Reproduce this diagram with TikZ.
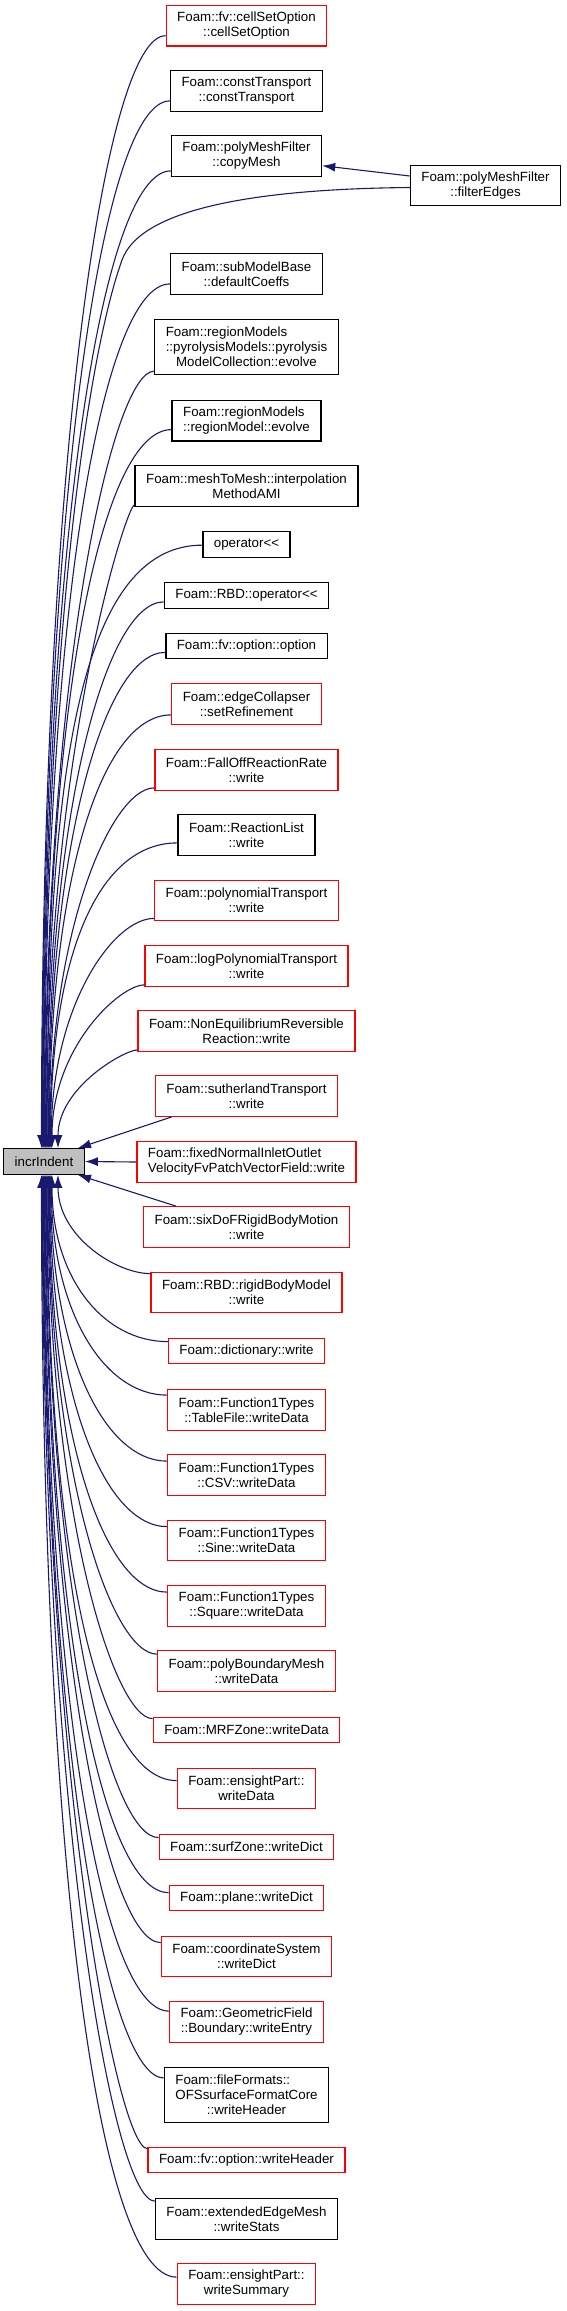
\documentclass[tikz,border=0pt]{standalone}
\usepackage{fontspec}
\setmainfont{Liberation Sans}
\usetikzlibrary{arrows.meta,calc}
\definecolor{edgeblue}{HTML}{191970}
\definecolor{hlgray}{HTML}{BFBFBF}
\newcommand{\lfirst}[2]{\setbox0\hbox{#2}\hbox to\wd0{#1\hfil}\\#2}
\begin{document}
\begin{tikzpicture}[
  x=1pt, y=-1pt,
  >={Latex[length=13pt,width=9pt]},
  fn/.style={draw=black, fill=white, line width=1.3pt, align=center,
    inner xsep=11pt, inner ysep=0pt, font=\fontsize{13.33}{15}\selectfont},
  fnred/.style={fn, draw=red},
  oneline/.style={minimum height=25.5pt},
  twoline/.style={minimum height=40.5pt},
  threeline/.style={minimum height=55pt},
  call/.style={draw=edgeblue, line width=1.1pt, ->}
]
  \useasboundingbox (0,0) rectangle (567,2311);

  \node[fn, fill=hlgray, oneline] (incr) at (44,1161.5) {incrIndent};

  \node[fnred,twoline] (cso) at (246.5,25.8) {Foam::fv::cellSetOption\\::cellSetOption};
  \node[fn,twoline] (ctr) at (246.5,91) {Foam::constTransport\\::constTransport};
  \node[fn,twoline] (cpm) at (246.5,156) {Foam::polyMeshFilter\\::copyMesh};
  \node[fn,twoline] (fe) at (485.5,185.5) {Foam::polyMeshFilter\\::filterEdges};
  \node[fn,twoline] (dfc) at (246.5,274) {Foam::subModelBase\\::defaultCoeffs};
  \node[fn,threeline] (pyr) at (246.5,347) {\lfirst{Foam::regionModels}{::pyrolysisModels::pyrolysis}\\ModelCollection::evolve};
  \node[fn,twoline] (rme) at (246.5,420.7) {\lfirst{Foam::regionModels}{::regionModel::evolve}};
  \node[fn,twoline] (ami) at (246.5,486) {Foam::meshToMesh::interpolation\\MethodAMI};
  \node[fn,oneline] (opl) at (246.5,544.5) {operator<{}<};
  \node[fn,oneline] (rbo) at (246.5,595.5) {Foam::RBD::operator<{}<};
  \node[fn,oneline] (opt) at (246.5,646) {Foam::fv::option::option};
  \node[fnred,twoline] (srf) at (246.5,704) {Foam::edgeCollapser\\::setRefinement};
  \node[fnred,twoline] (frr) at (246.5,770) {Foam::FallOffReactionRate\\::write};
  \node[fn,twoline] (rlw) at (246.5,835) {Foam::ReactionList\\::write};
  \node[fnred,twoline] (ptw) at (246.5,900.5) {Foam::polynomialTransport\\::write};
  \node[fnred,twoline] (lpt) at (246.5,966) {Foam::logPolynomialTransport\\::write};
  \node[fnred,twoline] (ner) at (246.5,1031) {Foam::NonEquilibriumReversible\\Reaction::write};
  \node[fnred,twoline] (stw) at (246.5,1096) {Foam::sutherlandTransport\\::write};
  \node[fnred,twoline] (fni) at (246.5,1162) {\lfirst{Foam::fixedNormalInletOutlet}{VelocityFvPatchVectorField::write}};
  \node[fnred,twoline] (sdf) at (246.5,1227) {Foam::sixDoFRigidBodyMotion\\::write};
  \node[fnred,twoline] (rbm) at (246.5,1292.5) {Foam::RBD::rigidBodyModel\\::write};
  \node[fnred,oneline] (dic) at (246.5,1351) {Foam::dictionary::write};
  \node[fnred,twoline] (tfw) at (246.5,1410) {Foam::Function1Types\\::TableFile::writeData};
  \node[fnred,twoline] (csv) at (246.5,1475) {Foam::Function1Types\\::CSV::writeData};
  \node[fnred,twoline] (swd) at (246.5,1540.5) {Foam::Function1Types\\::Sine::writeData};
  \node[fnred,twoline] (sqr) at (246.5,1606) {Foam::Function1Types\\::Square::writeData};
  \node[fnred,twoline] (pbm) at (246.5,1671) {Foam::polyBoundaryMesh\\::writeData};
  \node[fnred,oneline] (mrf) at (246.5,1730) {Foam::MRFZone::writeData};
  \node[fnred,twoline] (epd) at (246.5,1788.5) {Foam::ensightPart::\\writeData};
  \node[fnred,oneline] (szd) at (246.5,1847) {Foam::surfZone::writeDict};
  \node[fnred,oneline] (pld) at (246.5,1898) {Foam::plane::writeDict};
  \node[fnred,twoline] (csd) at (246.5,1956.5) {Foam::coordinateSystem\\::writeDict};
  \node[fnred,twoline] (gfe) at (246.5,2022) {Foam::GeometricField\\::Boundary::writeEntry};
  \node[fn,threeline] (ffh) at (246.5,2095) {\lfirst{Foam::fileFormats::}{OFSsurfaceFormatCore}\\::writeHeader};
  \node[fnred,oneline] (fvh) at (246.5,2160) {Foam::fv::option::writeHeader};
  \node[fn,twoline] (eem) at (246.5,2219) {Foam::extendedEdgeMesh\\::writeStats};
  \node[fnred,twoline] (eps) at (246.5,2284) {Foam::ensightPart::\\writeSummary};

  \foreach \nd/\sh/\tx in {cso/11/-2.5, ctr/11/-1.8, cpm/6/-1.1, dfc/11/0.3,
    pyr/4/1.0, rme/12/1.7, ami/2/2.4, opl/12.75/3.1, rbo/7/3.8, opt/7/4.5,
    srf/10/5.2, frr/3/5.9, rlw/13/6.6, ptw/3/7.3, lpt/2/8.0, ner/2/14}
    \draw[call] let \p1=([yshift=\sh]\nd.south west), \p2=([xshift=\tx]incr.north) in
      (\p1) .. controls ({130-0.7*(\x1-130)},\y1) and (\x2,{\y2+0.62*(\y1-\y2)}) .. (\p2);

  \foreach \nd/\sh/\tx in {rbm/2/14, dic/4/8.0, tfw/6/7.3, csv/7/6.6,
    swd/7/5.9, sqr/7/5.2, pbm/4/4.5, mrf/2/3.8, epd/13/3.1, szd/4/2.4,
    pld/8/1.7, csd/7/1.0, gfe/10/0.3, ffh/11/-0.4, fvh/2/-1.1, eem/3/-1.8,
    eps/14/-2.5}
    \draw[call] let \p1=([yshift=-\sh]\nd.north west), \p2=([xshift=\tx]incr.south) in
      (\p1) .. controls ({130-0.7*(\x1-130)},\y1) and (\x2,{\y2+0.62*(\y1-\y2)}) .. (\p2);

  \draw[call] ([yshift=9.5pt]fe.west) -- ([yshift=-9.7pt]cpm.east);
  \draw[call] ([yshift=-2pt]fe.west) .. controls (250,189) and (140,210) .. (122,260)
    .. controls (86,360) and (43.6,660) .. ([xshift=-0.4]incr.north);
  \draw[call] ([xshift=17pt]stw.south west) -- ([xshift=34pt]incr.north);
  \draw[call] (fni.west) -- (incr.east);
  \draw[call] ([xshift=33pt]sdf.north west) -- ([xshift=34pt]incr.south);
\end{tikzpicture}
\end{document}
